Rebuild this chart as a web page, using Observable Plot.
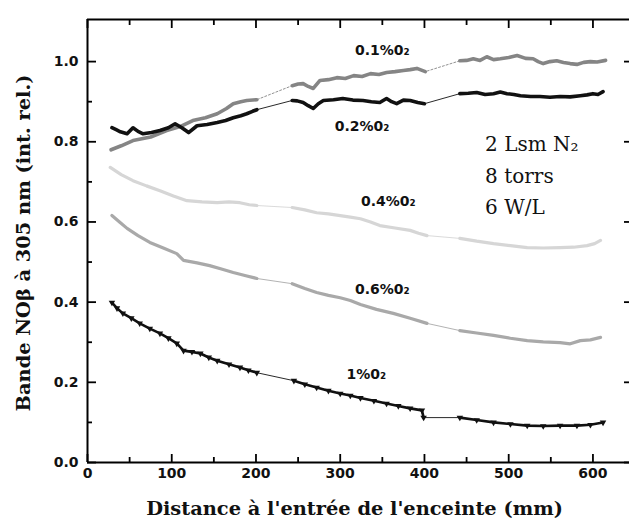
<!DOCTYPE html>
<html>
<head>
<meta charset="utf-8">
<script src="https://cdn.jsdelivr.net/npm/d3@7"></script>
<script src="https://cdn.jsdelivr.net/npm/@observablehq/plot@0.6"></script>
<style>
  body { margin: 0; background: #fff; }
</style>
</head>
<body>
<div id="chart"></div>
<script>
// NOβ band intensity (305 nm) along the enclosure, for several O2 admixtures.
// Each series was measured in three stretches; the gaps are bridged by a thin line.
const o2_01 = [
  [[28,0.780],[40,0.790],[54,0.803],[75,0.812],[94,0.828],[110,0.838],[125,0.853],[140,0.860],[154,0.870],[165,0.883],[173,0.895],[182,0.900],[189,0.903],[201,0.905]],
  [[243,0.940],[250,0.944],[256,0.945],[262,0.938],[268,0.933],[276,0.953],[286,0.955],[296,0.960],[306,0.958],[316,0.965],[326,0.963],[336,0.970],[346,0.968],[355,0.973],[365,0.975],[375,0.978],[383,0.980],[391,0.983],[401,0.975]],
  [[442,1.002],[450,1.003],[458,1.007],[466,1.003],[474,1.012],[482,1.005],[490,1.007],[500,1.010],[510,1.015],[520,1.008],[529,1.007],[535,1.000],[541,0.995],[549,1.000],[557,1.002],[565,0.998],[573,0.995],[581,0.993],[589,0.998],[597,1.000],[605,0.999],[615,1.003]]
];
const o2_02 = [
  [[29,0.835],[34,0.830],[39,0.825],[47,0.820],[54,0.835],[60,0.826],[66,0.820],[76,0.823],[86,0.828],[96,0.835],[104,0.845],[112,0.835],[120,0.823],[130,0.840],[142,0.843],[154,0.848],[164,0.853],[173,0.860],[182,0.865],[189,0.870],[196,0.876],[201,0.880]],
  [[243,0.903],[249,0.902],[256,0.898],[262,0.890],[268,0.883],[274,0.895],[280,0.903],[292,0.905],[303,0.908],[315,0.904],[327,0.903],[337,0.900],[347,0.898],[355,0.908],[361,0.900],[367,0.895],[375,0.904],[383,0.903],[392,0.898],[400,0.895]],
  [[442,0.920],[452,0.921],[462,0.923],[472,0.918],[482,0.920],[490,0.924],[498,0.920],[506,0.918],[514,0.915],[526,0.913],[537,0.913],[549,0.911],[561,0.913],[573,0.912],[585,0.915],[593,0.917],[600,0.920],[606,0.918],[612,0.925]]
];
const o2_04 = [
  [[27,0.736],[40,0.718],[54,0.703],[70,0.690],[86,0.678],[102,0.665],[118,0.653],[136,0.650],[154,0.648],[168,0.650],[181,0.648],[192,0.643],[201,0.641]],
  [[243,0.636],[258,0.630],[272,0.623],[286,0.620],[300,0.616],[312,0.612],[324,0.608],[336,0.600],[347,0.591],[365,0.585],[383,0.579],[393,0.572],[403,0.566]],
  [[442,0.559],[462,0.552],[482,0.546],[502,0.541],[522,0.536],[541,0.535],[561,0.536],[577,0.537],[593,0.541],[602,0.546],[609,0.554]]
];
const o2_06 = [
  [[29,0.616],[38,0.600],[47,0.584],[60,0.566],[74,0.549],[90,0.535],[106,0.521],[114,0.504],[130,0.498],[145,0.491],[160,0.482],[173,0.474],[188,0.466],[201,0.459]],
  [[243,0.446],[258,0.434],[272,0.424],[286,0.417],[300,0.411],[312,0.404],[324,0.394],[343,0.382],[363,0.372],[383,0.360],[403,0.347]],
  [[442,0.329],[462,0.323],[482,0.317],[502,0.310],[522,0.304],[541,0.301],[561,0.299],[573,0.296],[585,0.304],[597,0.306],[609,0.312]]
];
const o2_1 = [
  [[29,0.399],[35,0.385],[42,0.372],[52,0.360],[62,0.347],[74,0.334],[86,0.322],[96,0.310],[106,0.297],[114,0.279],[124,0.276],[134,0.272],[144,0.262],[154,0.254],[168,0.245],[181,0.237],[191,0.230],[201,0.224]],
  [[245,0.204],[258,0.195],[272,0.187],[286,0.179],[300,0.172],[312,0.167],[324,0.161],[340,0.154],[355,0.147],[369,0.141],[383,0.135],[397,0.130],[399,0.112]],
  [[442,0.112],[462,0.106],[482,0.100],[502,0.096],[522,0.092],[541,0.091],[561,0.092],[581,0.092],[597,0.094],[612,0.100]]
];

// Curve labels, placed in data coordinates (centre x, baseline y)
const curveLabels = [
  {text: "0.1%0₂", x: 350, y: 1.017},
  {text: "0.2%0₂", x: 326, y: 0.828},
  {text: "0.4%0₂", x: 357, y: 0.641},
  {text: "0.6%0₂", x: 350, y: 0.421},
  {text: "1%0₂",   x: 331, y: 0.209}
];
const conditions = [
  {text: "2 Lsm N₂", x: 472, y: 0.778},
  {text: "8 torrs",  x: 472, y: 0.696},
  {text: "6 W/L",    x: 472, y: 0.621}
];

const xTicks = [0, 100, 200, 300, 400, 500, 600];
const xMinor = [50, 150, 250, 350, 450, 550];
const yTicks = [0, 0.2, 0.4, 0.6, 0.8, 1.0];
const yMinor = [0.1, 0.3, 0.5, 0.7, 0.9];

const xLabel = "Distance à l'entrée de l'enceinte (mm)";
const yLabel = "Bande NOβ à 305 nm (int. rel.)";

const seriesStyle = [
  {data: o2_01, color: "#858585", width: 3.6, link: "2,2"},
  {data: o2_02, color: "#111111", width: 3.6, link: null},
  {data: o2_04, color: "#d6d6d6", width: 3.2, link: null},
  {data: o2_06, color: "#a9a9a9", width: 3.2, link: null},
  {data: o2_1,  color: "#111111", width: 2.6, link: null}
];

const toRows = (segs) => segs.flatMap((seg, s) => seg.map(([x, y]) => ({x, y, seg: s})));

const W = 629, H = 525;
const mL = 87, mR = 0, mT = 19, mB = 63;
const frameW = W - mL - mR, frameH = H - mT - mB;

const marks = [];
for (const s of seriesStyle) {
  const rows = toRows(s.data);
  // thin connector through the gaps
  marks.push(Plot.line(rows, {x: "x", y: "y", stroke: s.color, strokeWidth: 0.9, strokeDasharray: s.link}));
  // measured stretches
  marks.push(Plot.line(rows, {x: "x", y: "y", z: "seg", stroke: s.color, strokeWidth: s.width, strokeLinejoin: "round"}));
}
// down-pointing triangle markers on the 1% curve
marks.push(Plot.dot(toRows(o2_1), {x: "x", y: "y", symbol: "triangle", rotate: 180, r: 2.4, fill: "#111", stroke: "none"}));

// frame (left, bottom, top)
marks.push(Plot.ruleX([0], {stroke: "#000", strokeWidth: 2}));
marks.push(Plot.ruleY([0], {stroke: "#000", strokeWidth: 2}));
marks.push(Plot.ruleY([1.105], {stroke: "#000", strokeWidth: 2}));

// inward ticks
marks.push(Plot.tickX(xTicks, {x: d => d, insetTop: frameH - 8, stroke: "#000", strokeWidth: 1.8}));
marks.push(Plot.tickX(xMinor, {x: d => d, insetTop: frameH - 5, stroke: "#000", strokeWidth: 1.8}));
marks.push(Plot.tickX(xTicks, {x: d => d, insetBottom: frameH - 9, stroke: "#000", strokeWidth: 1.8}));
marks.push(Plot.tickX(xMinor, {x: d => d, insetBottom: frameH - 6, stroke: "#000", strokeWidth: 1.8}));
marks.push(Plot.tickY(yTicks, {y: d => d, insetRight: frameW - 9, stroke: "#000", strokeWidth: 1.8}));
marks.push(Plot.tickY(yMinor, {y: d => d, insetRight: frameW - 5, stroke: "#000", strokeWidth: 1.8}));
marks.push(Plot.tickY(yTicks, {y: d => d, insetLeft: frameW - 5, stroke: "#000", strokeWidth: 1.8}));

// tick labels
marks.push(Plot.axisX({ticks: xTicks, tickSize: 0, tickPadding: 6, tickFormat: d3.format("d"), label: null}));
marks.push(Plot.axisY({ticks: yTicks, tickSize: 0, tickPadding: 9, tickFormat: d3.format(".1f"), label: null}));

// curve labels
marks.push(Plot.text(curveLabels, {x: "x", y: "y", text: "text", textAnchor: "middle", lineAnchor: "bottom",
  fontFamily: "DejaVu Sans", fontWeight: "bold", fontSize: 14, fill: "#111"}));
// experimental conditions
marks.push(Plot.text(conditions, {x: "x", y: "y", text: "text", textAnchor: "start", lineAnchor: "bottom",
  fontFamily: "DejaVu Serif", fontWeight: "normal", fontSize: 20, fill: "#111"}));

// axis titles
marks.push(Plot.text([xLabel], {frameAnchor: "bottom", dx: -4, dy: 52, textAnchor: "middle", lineAnchor: "bottom",
  fontFamily: "DejaVu Serif", fontWeight: "bold", fontSize: 19.4, fill: "#111"}));
marks.push(Plot.text([yLabel], {frameAnchor: "left", dx: -64, dy: 2, rotate: -90, textAnchor: "middle", lineAnchor: "middle",
  fontFamily: "DejaVu Serif", fontWeight: "bold", fontSize: 19.4, fill: "#111"}));

const chart = Plot.plot({
  width: W, height: H,
  marginLeft: mL, marginRight: mR, marginTop: mT, marginBottom: mB,
  x: {domain: [0, 643.4]},
  y: {domain: [0, 1.105]},
  style: {fontFamily: "DejaVu Sans", fontWeight: "bold", fontSize: "14px", color: "#111", background: "#fff"},
  marks
});
document.getElementById("chart").append(chart);
</script>
</body>
</html>
